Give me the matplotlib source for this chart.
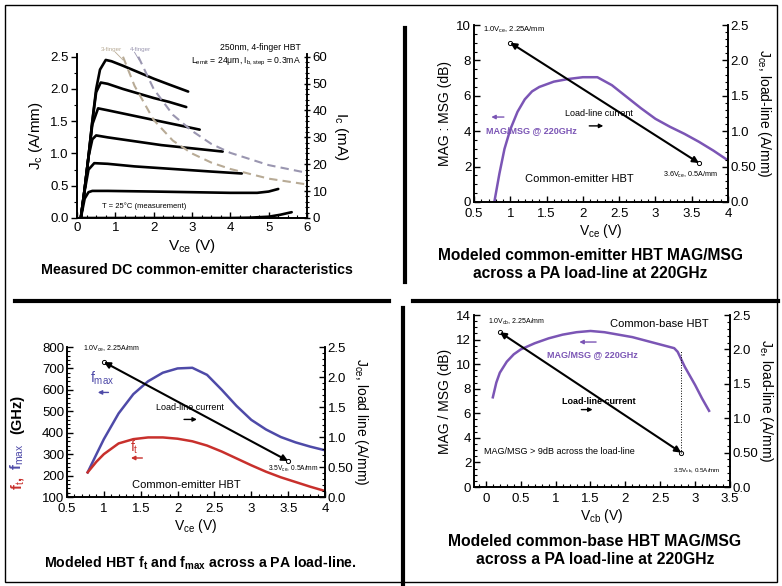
import matplotlib
matplotlib.use('Agg')
import matplotlib.pyplot as plt
from matplotlib.ticker import MultipleLocator, FixedLocator, FixedFormatter
from matplotlib.lines import Line2D
from matplotlib import font_manager

# ---------------- data ----------------
# Panel 1: measured DC IV curves (Vce in V, Jc in A/mm)
dc_v1 = [0.1, 0.2, 0.3, 0.4, 0.5, 0.6, 0.75, 0.9, 1.2, 1.6, 2.0, 2.4, 2.9]
dc_j1 = [0.0, 0.45, 0.95, 1.5, 2.0, 2.3, 2.45, 2.43, 2.36, 2.26, 2.16, 2.07, 1.96]
dc_v2 = [0.1, 0.2, 0.3, 0.4, 0.5, 0.62, 0.8, 1.2, 1.6, 2.0, 2.4, 2.85]
dc_j2 = [0.0, 0.45, 0.95, 1.5, 1.95, 2.1, 2.08, 2.0, 1.93, 1.86, 1.8, 1.72]
dc_v3 = [0.1, 0.2, 0.3, 0.4, 0.55, 0.8, 1.2, 1.6, 2.0, 2.4, 2.8, 3.2]
dc_j3 = [0.0, 0.45, 0.95, 1.45, 1.7, 1.67, 1.62, 1.57, 1.52, 1.47, 1.42, 1.37]
dc_v4 = [0.1, 0.2, 0.3, 0.4, 0.5, 0.8, 1.5, 2.2, 3.0, 3.8]
dc_j4 = [0.0, 0.45, 0.95, 1.22, 1.28, 1.25, 1.19, 1.13, 1.08, 1.03]
dc_v5 = [0.1, 0.2, 0.3, 0.45, 0.8, 1.5, 2.5, 3.5, 4.3]
dc_j5 = [0.0, 0.42, 0.75, 0.85, 0.84, 0.8, 0.76, 0.72, 0.69]
dc_v6 = [0.1, 0.2, 0.3, 0.4, 0.8, 2.0, 3.0, 4.0, 4.7, 5.0, 5.25]
dc_j6 = [0.0, 0.3, 0.4, 0.42, 0.42, 0.41, 0.4, 0.39, 0.39, 0.41, 0.45]
dc_v7 = [0.1, 1.0, 2.0, 3.0, 4.0, 4.5, 5.0, 5.3, 5.6]
dc_j7 = [0.0, 0.0, 0.0, 0.0, 0.0, 0.005, 0.02, 0.05, 0.09]
p3_v = [1.2, 1.5, 2.0, 2.5, 3.0, 3.5, 4.0, 5.0, 6.0]
p3_j = [2.5, 2.05, 1.52, 1.2, 1.0, 0.86, 0.76, 0.61, 0.52]
p4_v = [1.6, 2.0, 2.5, 3.0, 3.5, 4.0, 5.0, 6.0]
p4_j = [2.5, 2.0, 1.6, 1.35, 1.15, 1.01, 0.82, 0.70]

# Panel 2: common-emitter MAG/MSG at 220 GHz
ce_v = [0.78, 0.85, 0.92, 1.0, 1.1, 1.2, 1.3, 1.4, 1.6, 1.8, 2.0, 2.2, 2.4, 2.6, 2.8, 3.0, 3.2, 3.4, 3.6, 3.8, 4.0]
ce_mag = [0.0, 1.6, 3.0, 4.1, 5.1, 5.8, 6.25, 6.5, 6.8, 6.95, 7.05, 7.05, 6.6, 5.95, 5.3, 4.7, 4.25, 3.85, 3.4, 2.9, 2.35]
ce_ll_v = [1.0, 3.6]
ce_ll_j = [2.25, 0.55]

# Panel 3: ft / fmax (GHz)
f_v = [0.78, 0.9, 1.0, 1.2, 1.4, 1.6, 1.8, 2.0, 2.2, 2.4, 2.6, 2.8, 3.0, 3.2, 3.4, 3.6, 3.8, 4.0]
fmax = [215, 300, 370, 490, 580, 640, 680, 700, 703, 670, 600, 525, 460, 415, 380, 355, 335, 318]
ft = [215, 265, 300, 350, 370, 378, 378, 372, 360, 340, 312, 280, 248, 218, 192, 170, 148, 128]
f_ll_v = [1.0, 3.5]
f_ll_j = [2.25, 0.6]

# Panel 4: common-base MAG/MSG
cb_v = [0.1, 0.15, 0.2, 0.3, 0.4, 0.5, 0.7, 0.9, 1.1, 1.3, 1.5, 1.7, 1.9, 2.1, 2.3, 2.5, 2.7, 2.75, 2.85, 3.0, 3.1, 3.2]
cb_mag = [7.3, 8.5, 9.3, 10.2, 10.8, 11.2, 11.7, 12.1, 12.4, 12.6, 12.7, 12.6, 12.4, 12.2, 11.9, 11.6, 11.3, 11.0, 9.8, 8.3, 7.2, 6.2]
cb_ll_v = [0.2, 2.8]
cb_ll_j = [2.25, 0.5]

captions = ["Measured DC common-emitter characteristics",
            "Modeled common-emitter HBT MAG/MSG\nacross a PA load-line at 220GHz",
            "Modeled HBT f$_\\mathbf{t}$ and f$_\\mathbf{max}$ across a PA load-line.",
            "Modeled common-base HBT MAG/MSG\nacross a PA load-line at 220GHz"]

# ---------------- style ----------------
names = {f.name for f in font_manager.fontManager.ttflist}
BASE = 'Liberation Sans' if 'Liberation Sans' in names else 'DejaVu Sans'
plt.rcParams['font.family'] = [BASE, 'DejaVu Sans']
plt.rcParams['mathtext.fontset'] = 'custom'
plt.rcParams['mathtext.rm'] = BASE
plt.rcParams['mathtext.it'] = BASE
plt.rcParams['mathtext.bf'] = BASE + ':bold'

PURPLE = '#7b55b5'
BLUE = '#4e4aa8'
RED = '#c8302c'
TAN = '#b8ab96'
GRAYP = '#9a96b0'

W, H = 782, 586
fig = plt.figure(figsize=(7.82, 5.86), dpi=100)


def box(l, r, t, b):
    return [l / W, 1 - b / H, (r - l) / W, (b - t) / H]


def fx(px):
    return px / W


def fy(py):
    return 1 - py / H


def style(ax, axr, tick_in=True):
    ax.spines['top'].set_visible(False)
    axr.spines['top'].set_visible(False)
    for a in (ax, axr):
        for s in a.spines.values():
            s.set_linewidth(1.2)
    d = 'in' if tick_in else 'out'
    ax.tick_params(axis='both', which='major', direction=d, length=4, width=1, labelsize=9.5, pad=2)
    ax.tick_params(axis='both', which='minor', direction=d, length=2.2, width=0.8)
    ax.tick_params(axis='x', which='major', pad=4.5)
    axr.tick_params(axis='y', which='major', direction='in', length=4, width=1, labelsize=9.5, pad=2)
    axr.tick_params(axis='y', which='minor', direction='in', length=2.2, width=0.8)


# ---------- frame and dividers ----------
fig.add_artist(plt.Rectangle((fx(5), fy(582)), fx(772), (577) / H, fill=False, lw=1.0, ec='k', transform=fig.transFigure))
fig.add_artist(Line2D([fx(405), fx(405)], [fy(28), fy(282)], lw=3, color='k'))
fig.add_artist(Line2D([fx(403), fx(403)], [fy(308), fy(586)], lw=3, color='k'))
fig.add_artist(Line2D([fx(15), fx(389)], [fy(301), fy(301)], lw=3, color='k'))
fig.add_artist(Line2D([fx(413), fx(778)], [fy(301), fy(301)], lw=3, color='k'))

# ---------- Panel 1 ----------
ax1 = fig.add_axes(box(77, 307, 53.5, 218))
ax1.set_xlim(0, 6)
ax1.set_ylim(0, 2.55)
for v, j in [(dc_v1, dc_j1), (dc_v2, dc_j2), (dc_v3, dc_j3), (dc_v4, dc_j4),
             (dc_v5, dc_j5), (dc_v6, dc_j6), (dc_v7, dc_j7)]:
    ax1.plot(v, j, color='k', lw=1.9, solid_capstyle='round')
ax1.plot(p3_v, p3_j, color=TAN, lw=1.5, dashes=(4, 2.5))
ax1.plot(p4_v, p4_j, color=GRAYP, lw=1.5, dashes=(4, 2.5))
ax1r = ax1.twinx()
ax1r.set_ylim(0, 2.55 * 24)
style(ax1, ax1r, tick_in=False)
ax1.tick_params(axis='x', which='both', direction='in')
ax1.tick_params(axis='x', which='major', pad=3)
ax1r.tick_params(axis='y', which='both', direction='inout')
ax1.xaxis.set_major_locator(MultipleLocator(1))
ax1.xaxis.set_minor_locator(MultipleLocator(0.25))
ax1.yaxis.set_major_locator(MultipleLocator(0.5))
ax1.yaxis.set_minor_locator(MultipleLocator(0.25))
ax1.yaxis.set_major_formatter(matplotlib.ticker.FormatStrFormatter('%.1f'))
ax1r.yaxis.set_major_locator(MultipleLocator(10))
ax1r.yaxis.set_minor_locator(MultipleLocator(2))
ax1.set_xlabel('V$_{\\rm ce}$ (V)', fontsize=11, labelpad=2)
ax1.set_ylabel('J$_{\\rm c}$ (A/mm)', fontsize=11, labelpad=4)
ax1r.set_ylabel('I$_{\\rm c}$ (mA)', fontsize=11, rotation=-90, labelpad=16)
ax1.text(0.62, 2.57, '3-finger', color=TAN, fontsize=4.5, va='bottom')
ax1.text(1.38, 2.57, '4-finger', color=GRAYP, fontsize=4.5, va='bottom')
ax1.plot([1.0, 1.2], [2.57, 2.45], color=TAN, lw=0.6, clip_on=False)
ax1.plot([1.5, 1.62], [2.57, 2.45], color=GRAYP, lw=0.6, clip_on=False)
ax1.text(5.85, 2.58, '250nm, 4-finger HBT', fontsize=6.2, ha='right', va='bottom')
ax1.text(5.85, 2.33, 'L$_{\\rm emit}$ = 24μm, I$_{\\rm b,step}$ = 0.3mA', fontsize=6.2, ha='right', va='bottom')
ax1.text(0.65, 0.19, 'T = 25°C (measurement)', fontsize=5.5, va='center')
fig.text(fx(197), fy(270), captions[0], fontsize=10.3, fontweight='bold',
         ha='center', va='center')

# ---------- Panel 2 ----------
ax2 = fig.add_axes(box(474, 728, 25, 202))
ax2.set_xlim(0.5, 4)
ax2.set_ylim(0, 10)
ax2.plot(ce_v, ce_mag, color=PURPLE, lw=1.8)
ax2r = ax2.twinx()
ax2r.set_ylim(0, 2.5)
ax2r.annotate('', xy=(ce_ll_v[0], ce_ll_j[0]), xytext=(ce_ll_v[1], ce_ll_j[1]),
              arrowprops=dict(arrowstyle='<|-|>', color='k', lw=1.5, mutation_scale=9, shrinkA=0, shrinkB=0))
ax2r.plot(ce_ll_v, ce_ll_j, 'o', ms=3, mfc='white', mec='k', mew=0.7)
style(ax2, ax2r)
ax2.xaxis.set_major_locator(FixedLocator([0.5, 1, 1.5, 2, 2.5, 3, 3.5, 4]))
ax2.xaxis.set_major_formatter(FixedFormatter(['0.5', '1', '1.5', '2', '2.5', '3', '3.5', '4']))
ax2.xaxis.set_minor_locator(MultipleLocator(0.1))
ax2.yaxis.set_major_locator(MultipleLocator(2))
ax2.yaxis.set_minor_locator(MultipleLocator(0.5))
ax2r.yaxis.set_major_locator(FixedLocator([0, 0.5, 1.0, 1.5, 2.0, 2.5]))
ax2r.yaxis.set_major_formatter(FixedFormatter(['0.0', '0.50', '1.0', '1.5', '2.0', '2.5']))
ax2r.yaxis.set_minor_locator(MultipleLocator(0.1))
ax2.set_xlabel('V$_{\\rm ce}$ (V)', fontsize=10, labelpad=1)
ax2.set_ylabel('MAG : MSG (dB)', fontsize=10, labelpad=3)
ax2r.set_ylabel('J$_{\\rm ce}$, load-line (A/mm)', fontsize=10, rotation=-90, labelpad=12)
ax2.text(0.62, 9.75, '1.0V$_{\\rm ce}$, 2.25A/mm', fontsize=5.5, va='center')
ax2.text(3.1, 1.55, '3.6V$_{\\rm ce}$, 0.5A/mm', fontsize=5.2, va='center')
ax2.text(2.22, 5.0, 'Load-line current', fontsize=6.5, ha='center', va='center')
ax2.annotate('', xy=(2.32, 4.3), xytext=(2.05, 4.3),
             arrowprops=dict(arrowstyle='-|>', color='k', lw=1.0, mutation_scale=6))
ax2.text(0.66, 4.05, 'MAG/MSG @ 220GHz', fontsize=6.5, color=PURPLE, fontweight='bold', va='center')
ax2.annotate('', xy=(0.7, 4.8), xytext=(0.95, 4.8),
             arrowprops=dict(arrowstyle='-|>', color=PURPLE, lw=1.0, mutation_scale=6))
ax2.text(1.95, 1.3, 'Common-emitter HBT', fontsize=8, ha='center', va='center')
fig.text(fx(590), fy(264), captions[1], fontsize=11.2, fontweight='bold',
         ha='center', va='center', linespacing=1.25)

# ---------- Panel 3 ----------
ax3 = fig.add_axes(box(67, 325, 347, 497))
ax3.set_xlim(0.5, 4)
ax3.set_ylim(100, 800)
ax3.plot(f_v, fmax, color=BLUE, lw=1.8)
ax3.plot(f_v, ft, color=RED, lw=1.8)
ax3r = ax3.twinx()
ax3r.set_ylim(0, 2.5)
ax3r.annotate('', xy=(f_ll_v[0], f_ll_j[0]), xytext=(f_ll_v[1], f_ll_j[1]),
              arrowprops=dict(arrowstyle='<|-|>', color='k', lw=1.5, mutation_scale=9, shrinkA=0, shrinkB=0))
ax3r.plot(f_ll_v, f_ll_j, 'o', ms=3, mfc='white', mec='k', mew=0.7)
style(ax3, ax3r)
ax3.xaxis.set_major_locator(FixedLocator([0.5, 1, 1.5, 2, 2.5, 3, 3.5, 4]))
ax3.xaxis.set_major_formatter(FixedFormatter(['0.5', '1', '1.5', '2', '2.5', '3', '3.5', '4']))
ax3.xaxis.set_minor_locator(MultipleLocator(0.1))
ax3.yaxis.set_major_locator(MultipleLocator(100))
ax3.yaxis.set_minor_locator(MultipleLocator(20))
ax3r.yaxis.set_major_locator(FixedLocator([0, 0.5, 1.0, 1.5, 2.0, 2.5]))
ax3r.yaxis.set_major_formatter(FixedFormatter(['0.0', '0.50', '1.0', '1.5', '2.0', '2.5']))
ax3r.yaxis.set_minor_locator(MultipleLocator(0.1))
ax3.set_xlabel('V$_{\\rm ce}$ (V)', fontsize=10, labelpad=1)
ax3r.set_ylabel('J$_{\\rm ce}$, load line (A/mm)', fontsize=10, rotation=-90, labelpad=12)
fig.text(fx(17), fy(483), 'f$_{\\rm t}$,', color=RED, fontsize=10.5, fontweight='bold', rotation=90, ha='center', va='center')
fig.text(fx(17), fy(457), 'f$_{\\rm max}$', color=BLUE, fontsize=10.5, fontweight='bold', rotation=90, ha='center', va='center')
fig.text(fx(17), fy(414), '(GHz)', color='k', fontsize=10.5, fontweight='bold', rotation=90, ha='center', va='center')
ax3.text(0.72, 790, '1.0V$_{\\rm ce}$, 2.25A/mm', fontsize=5, va='center')
ax3.text(3.22, 232, '3.5V$_{\\rm ce}$, 0.5A/mm', fontsize=4.8, va='center')
ax3.text(2.17, 520, 'Load-line current', fontsize=6.5, ha='center', va='center')
ax3.annotate('', xy=(2.3, 462), xytext=(2.05, 462),
             arrowprops=dict(arrowstyle='-|>', color='k', lw=1.0, mutation_scale=6))
ax3.text(0.97, 655, 'f$_{\\rm max}$', color=BLUE, fontsize=10, ha='center', va='center')
ax3.annotate('', xy=(0.88, 588), xytext=(1.1, 588),
             arrowprops=dict(arrowstyle='-|>', color=BLUE, lw=1.0, mutation_scale=6))
ax3.text(1.42, 330, 'f$_{\\rm t}$', color=RED, fontsize=10, ha='center', va='center')
ax3.annotate('', xy=(1.33, 282), xytext=(1.56, 282),
             arrowprops=dict(arrowstyle='-|>', color=RED, lw=1.0, mutation_scale=6))
ax3.text(2.12, 157, 'Common-emitter HBT', fontsize=8, ha='center', va='center')
fig.text(fx(200), fy(563), captions[2], fontsize=10.2, fontweight='bold',
         ha='center', va='center')

# ---------- Panel 4 ----------
ax4 = fig.add_axes(box(474, 730, 315, 487))
ax4.set_xlim(-0.17, 3.5)
ax4.set_ylim(0, 14)
ax4.plot(cb_v, cb_mag, color=PURPLE, lw=1.8)
ax4r = ax4.twinx()
ax4r.set_ylim(0, 2.5)
ax4r.annotate('', xy=(cb_ll_v[0], cb_ll_j[0]), xytext=(cb_ll_v[1], cb_ll_j[1]),
              arrowprops=dict(arrowstyle='<|-|>', color='k', lw=1.5, mutation_scale=9, shrinkA=0, shrinkB=0))
ax4r.plot(cb_ll_v, cb_ll_j, 'o', ms=3, mfc='white', mec='k', mew=0.7)
ax4r.plot([cb_ll_v[1], cb_ll_v[1]], [cb_ll_j[1], 1.98], color='k', lw=0.7, ls=':')
style(ax4, ax4r)
ax4.xaxis.set_major_locator(FixedLocator([0, 0.5, 1, 1.5, 2, 2.5, 3, 3.5]))
ax4.xaxis.set_major_formatter(FixedFormatter(['0', '0.5', '1', '1.5', '2', '2.5', '3', '3.5']))
ax4.xaxis.set_minor_locator(MultipleLocator(0.1))
ax4.yaxis.set_major_locator(MultipleLocator(2))
ax4.yaxis.set_minor_locator(MultipleLocator(0.5))
ax4r.yaxis.set_major_locator(FixedLocator([0, 0.5, 1.0, 1.5, 2.0, 2.5]))
ax4r.yaxis.set_major_formatter(FixedFormatter(['0.0', '0.50', '1.0', '1.5', '2.0', '2.5']))
ax4r.yaxis.set_minor_locator(MultipleLocator(0.1))
ax4.set_xlabel('V$_{\\rm cb}$ (V)', fontsize=10, labelpad=1)
ax4.set_ylabel('MAG / MSG (dB)', fontsize=10, labelpad=3)
ax4r.set_ylabel('J$_{\\rm e}$, load-line (A/mm)', fontsize=10, rotation=-90, labelpad=12)
ax4.text(0.03, 13.4, '1.0V$_{\\rm cb}$, 2.25A/mm', fontsize=5, va='center')
ax4.text(2.68, 1.3, '3.5V$_{\\rm cb}$, 0.5A/mm', fontsize=4.5, va='center')
ax4.text(3.2, 13.3, 'Common-base HBT', fontsize=8, ha='right', va='center')
ax4.text(0.87, 10.8, 'MAG/MSG @ 220GHz', fontsize=6.5, color=PURPLE, fontweight='bold', va='center')
ax4.annotate('', xy=(1.3, 11.8), xytext=(1.62, 11.8),
             arrowprops=dict(arrowstyle='-|>', color=PURPLE, lw=1.0, mutation_scale=6))
ax4.text(1.62, 7.0, 'Load-line current', fontsize=6.5, ha='center', va='center', fontweight='bold')
ax4.annotate('', xy=(1.57, 6.3), xytext=(1.33, 6.3),
             arrowprops=dict(arrowstyle='-|>', color='k', lw=1.0, mutation_scale=6))
ax4.text(-0.02, 2.9, 'MAG/MSG > 9dB across the load-line', fontsize=6.5, va='center')
fig.text(fx(595), fy(550), captions[3], fontsize=11.3, fontweight='bold',
         ha='center', va='center', linespacing=1.25)

fig.savefig('out.png', dpi=100, facecolor='white')
